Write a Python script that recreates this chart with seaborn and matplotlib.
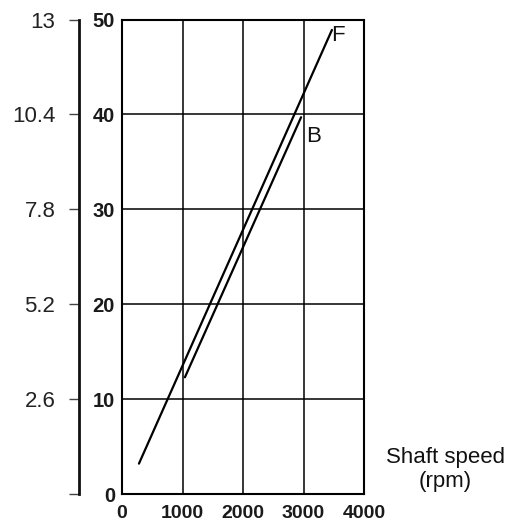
import matplotlib
matplotlib.use("Agg")
import matplotlib.pyplot as plt
import seaborn as sns
import pandas as pd

# Data
f_speed = [280, 3470]
f_value = [3.2, 48.9]
b_speed = [1040, 2960]
b_value = [12.3, 39.7]
x_ticks = [0, 1000, 2000, 3000, 4000]
y_ticks = [0, 10, 20, 30, 40, 50]
left_ticks = [0, 2.6, 5.2, 7.8, 10.4, 13]
left_labels = ["", "2.6", "5.2", "7.8", "10.4", "13"]
scale = 0.26

sns.set_theme(style="white")
plt.rcParams["font.family"] = ["Liberation Sans", "DejaVu Sans"]

fig = plt.figure(figsize=(5.19, 5.26), dpi=100)
ax = fig.add_axes([122/519, 1 - 494/526, (364-122)/519, (494-19.5)/526])

df_f = pd.DataFrame({"rpm": f_speed, "val": f_value})
df_b = pd.DataFrame({"rpm": b_speed, "val": b_value})
sns.lineplot(data=df_f, x="rpm", y="val", ax=ax, color="black", lw=1.6, estimator=None)
sns.lineplot(data=df_b, x="rpm", y="val", ax=ax, color="black", lw=1.6, estimator=None)

ax.set_xlim(0, 4000)
ax.set_ylim(0, 50)
ax.set_xticks(x_ticks)
ax.set_yticks(y_ticks)
ax.set_xticklabels([str(t) for t in x_ticks], fontsize=14, fontweight="bold", color="#1a1a1a")
ax.set_yticklabels([str(t) for t in y_ticks], fontsize=14.5, fontweight="bold", color="#1a1a1a")
ax.tick_params(axis="both", length=0, pad=5)
ax.tick_params(axis="x", pad=8)
ax.grid(True, color="black", lw=1.1)
ax.set_axisbelow(True)
for s in ax.spines.values():
    s.set_visible(True)
    s.set_color("black")
    s.set_linewidth(1.5)
ax.set_xlabel("")
ax.set_ylabel("")

ax.text(3570, 48.3, "F", fontsize=16, ha="center", va="center", color="#111")
ax.text(3160, 37.7, "B", fontsize=16, ha="center", va="center", color="#111")

sec = ax.secondary_yaxis(-43/242, functions=(lambda y: y * scale, lambda y: y / scale))
sec.set_yticks(left_ticks)
sec.set_yticklabels(left_labels, fontsize=16, color="#222")
sec.tick_params(axis="y", length=7, width=1, color="#444", pad=10)
sec.spines["left"].set_linewidth(2)
sec.spines["left"].set_color("#111")

fig.text(445/519, 1 - 457/526, "Shaft speed", fontsize=16, ha="center", va="center", color="#111")
fig.text(445/519, 1 - 481/526, "(rpm)", fontsize=16, ha="center", va="center", color="#111")

fig.savefig("out.png", dpi=100)
